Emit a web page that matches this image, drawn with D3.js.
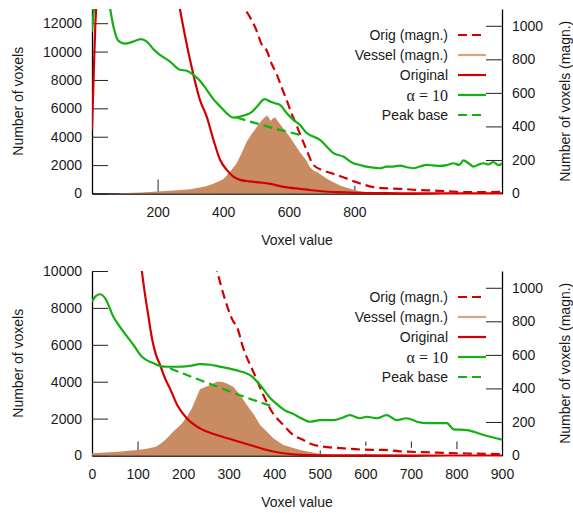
<!DOCTYPE html>
<html>
<head>
<meta charset="utf-8">
<script src="https://cdn.jsdelivr.net/npm/d3@7"></script>
<style>
  body { margin: 0; background: #fff; }
  svg  { display: block; }
</style>
</head>
<body>
<svg id="chart" width="573" height="513"></svg>
<script>
// ── Values ─────────────────────────────────────────────────────────────────
// Each series is a list of [voxel value, count]. Left axis: Original, α = 10,
// Peak base. Right axis (magnified): Orig (magn.), Vessel (magn.).

const legendLabels = ['Orig (magn.)', 'Vessel (magn.)', 'Original', 'α = 10', 'Peak base'];

// Top panel
const topXTicks  = [200, 400, 600, 800];
const topYTicks  = [0, 2000, 4000, 6000, 8000, 10000, 12000];
const topY2Ticks = [0, 200, 400, 600, 800, 1000];

const topOriginal = [
  [0, 4500], [5, 8200], [10, 11800], [15, 13900], [25, 16000], [245, 16000],
  [268, 13000], [299, 9400], [329, 6600], [350, 5400], [370, 3800], [390, 2400],
  [411, 1660], [430, 1200], [451, 960], [480, 860], [510, 780], [540, 700],
  [573, 520], [600, 420], [634, 330], [670, 230], [700, 160], [750, 90],
  [800, 50], [900, 20], [1000, 10], [1250, 5]
];
const topAlpha = [
  [0, 11400], [8, 13500], [20, 15000], [45, 14500], [55, 13070], [65, 11800],
  [79, 10800], [90, 10620], [101, 10560], [125, 10700], [150, 10880], [167, 10700],
  [190, 10100], [207, 9770], [238, 9300], [268, 8720], [289, 8650], [309, 8360],
  [329, 7950], [350, 7300], [370, 6650], [390, 6150], [411, 5650], [431, 5350],
  [451, 5420], [470, 5550], [482, 5660], [502, 6100], [527, 6650], [543, 6480],
  [558, 6360], [573, 6240], [594, 5660], [614, 5190], [634, 4830], [655, 4250],
  [675, 4010], [695, 3780], [716, 3300], [736, 2840], [766, 2600], [797, 2130],
  [817, 2010], [837, 1890], [858, 1820], [878, 1780], [898, 1890], [918, 1900],
  [939, 1960], [960, 1850], [980, 1780], [1000, 1900], [1020, 2010], [1040, 1980],
  [1061, 1940], [1082, 2000], [1102, 2130], [1120, 2010], [1132, 2330], [1150, 2100],
  [1163, 1900], [1180, 2050], [1193, 2130], [1210, 2050], [1223, 2220], [1240, 2000],
  [1250, 2130]
];
const topPeakBase = [
  [441, 5350], [480, 5080], [520, 4820], [560, 4560], [600, 4330], [634, 4130]
];
const topOrigMagn = [
  [430, 1230], [466, 1100], [482, 1050], [502, 970], [517, 890], [533, 851],
  [548, 772], [563, 712], [578, 633], [594, 554], [609, 474], [624, 405],
  [634, 355], [655, 256], [675, 170], [705, 137], [736, 117], [766, 97],
  [807, 67], [858, 38], [900, 30], [939, 28], [1000, 20], [1041, 18],
  [1100, 12], [1143, 8], [1200, 8], [1250, 10]
];
const topVessel = [
  [0, 0], [60, 0], [100, 3], [150, 6], [200, 12], [250, 18], [300, 25],
  [345, 42], [370, 58], [400, 85], [421, 130], [441, 180], [456, 240],
  [472, 310], [487, 355], [502, 395], [517, 435], [527, 455], [533, 465],
  [540, 450], [545, 432], [552, 448], [558, 455], [565, 435], [573, 415],
  [588, 375], [604, 335], [624, 276], [634, 246], [650, 205], [665, 177],
  [680, 145], [695, 117], [715, 90], [736, 67], [760, 45], [787, 28],
  [810, 16], [837, 8], [878, 2], [900, 0], [1250, 0]
];

// Bottom panel
const botXTicks  = [0, 100, 200, 300, 400, 500, 600, 700, 800, 900];
const botYTicks  = [0, 2000, 4000, 6000, 8000, 10000];
const botY2Ticks = [0, 200, 400, 600, 800, 1000];

const botOriginal = [
  [95, 12800], [109, 10050], [116, 8790], [124, 7520], [131, 6440], [142, 5350],
  [148, 5000], [160, 4200], [171, 3640], [187, 2740], [208, 2020], [237, 1470],
  [274, 1110], [310, 840], [347, 570], [384, 300], [420, 120], [457, 30],
  [500, 10], [600, 3], [900, 0]
];
const botAlpha = [
  [0, 8340], [9, 8650], [18, 8740], [29, 8520], [47, 7520], [69, 6710],
  [91, 5990], [109, 5360], [135, 5000], [157, 4820], [186, 4810], [215, 4860],
  [237, 4950], [260, 4920], [280, 4820], [300, 4720], [320, 4600], [336, 4480],
  [347, 4360], [369, 3820], [391, 3120], [408, 2740], [427, 2400], [440, 2280],
  [457, 2050], [479, 1830], [501, 1920], [530, 1920], [550, 2050], [566, 2190],
  [588, 2020], [603, 2100], [625, 2020], [647, 2190], [669, 1920], [691, 2020],
  [713, 1830], [735, 1750], [760, 1750], [779, 1750], [794, 1420], [823, 1380],
  [860, 1110], [900, 860]
];
const botPeakBase = [
  [171, 4725], [200, 4440], [237, 4090], [280, 3680], [320, 3310], [360, 2960], [398, 2645]
];
const botOrigMagn = [
  [262, 1230], [274, 1106], [289, 957], [310, 800], [318, 768], [332, 640],
  [354, 500], [376, 361], [395, 261], [420, 182], [442, 122], [464, 92],
  [480, 70], [501, 55], [552, 43], [596, 35], [640, 33], [676, 25],
  [749, 18], [823, 12], [900, 8]
];
const botVessel = [
  [0, 13], [30, 18], [58, 23], [80, 28], [101, 33], [120, 40], [140, 52],
  [153, 75], [165, 105], [178, 142], [197, 190], [208, 230], [219, 280],
  [230, 350], [237, 395], [250, 410], [259, 420], [274, 440], [285, 440],
  [296, 430], [310, 410], [325, 361], [340, 301], [356, 241], [369, 182],
  [384, 142], [398, 103], [420, 63], [457, 33], [493, 13], [530, 3],
  [560, 0], [900, 0]
];

// ── Styling ─────────────────────────────────────────────────────────────────
const FONT  = '"Liberation Sans", Arial, Helvetica, sans-serif';
const SERIF = '"Liberation Serif", "DejaVu Serif", serif';
const RED = '#d40000', GREEN = '#12b012', TAN = '#c98b62', TAN_KEY = '#d9a47e';
const DASH = '9,5';
const X0 = 92, X1 = 502;
const fmt = d3.format('d');

const svg = d3.select('#chart').attr('font-family', FONT);

function drawPanel(p) {
  const x  = d3.scaleLinear().domain([0, p.xMax]).range([X0, X1]);
  const y  = d3.scaleLinear().domain([0, p.yMax]).range([p.bottom, p.top]);
  const y2 = d3.scaleLinear().domain([0, p.y2Max]).range([p.bottom, p.top]);
  const g  = svg.append('g');

  const styleAxis = a => a
    .attr('font-size', 14).attr('font-family', FONT)
    .call(s => s.selectAll('.tick line').attr('stroke', '#222'))
    .call(s => s.selectAll('.domain').attr('stroke', '#000').attr('stroke-width', 1.3))
    .call(s => s.selectAll('text').attr('fill', '#1a1a1a'));

  // ── Axes (ticks point inward, drawn under the data) ─────────────────────
  g.append('g').attr('transform', `translate(0,${p.bottom})`)
    .call(d3.axisBottom(x).tickValues(p.xTicks).tickFormat(fmt)
      .tickSize(-14).tickSizeOuter(0).tickPadding(14))
    .call(styleAxis);

  g.append('g').attr('transform', `translate(${X0},0)`)
    .call(d3.axisLeft(y).tickValues(p.yTicks).tickFormat(fmt)
      .tickSize(-16).tickSizeOuter(0).tickPadding(10))
    .call(styleAxis);

  g.append('g').attr('transform', `translate(${X1},0)`)
    .call(d3.axisRight(y2).tickValues(p.y2Ticks).tickFormat(fmt)
      .tickSize(-16).tickSizeOuter(0).tickPadding(10))
    .call(styleAxis);

  // ── Axis titles ─────────────────────────────────────────────────────────
  const midY = (p.top + p.bottom) / 2;
  g.append('text').attr('transform', `translate(22.5,${midY}) rotate(-90)`)
    .attr('text-anchor', 'middle').attr('font-size', 14).attr('fill', '#1a1a1a')
    .text('Number of voxels');
  g.append('text').attr('transform', `translate(569.5,${midY}) rotate(-90)`)
    .attr('text-anchor', 'middle').attr('font-size', 14).attr('fill', '#1a1a1a')
    .text('Number of voxels (magn.)');
  g.append('text').attr('x', (X0 + X1) / 2).attr('y', p.bottom + 51)
    .attr('text-anchor', 'middle').attr('font-size', 14).attr('fill', '#1a1a1a')
    .text('Voxel value');

  // ── Data layer, clipped to the plot box ─────────────────────────────────
  const clipId = 'clip-' + p.id;
  svg.append('clipPath').attr('id', clipId)
    .append('rect').attr('x', X0).attr('y', p.top)
    .attr('width', X1 - X0).attr('height', p.bottom - p.top + 2);
  const dg = g.append('g').attr('clip-path', `url(#${clipId})`);

  const lineOn = sc => d3.line().x(d => x(d[0])).y(d => sc(d[1])).curve(d3.curveMonotoneX);

  // Vessel (magn.) — filled histogram on the right axis
  dg.append('path').datum(p.vessel)
    .attr('d', d3.area().x(d => x(d[0])).y0(y2(0)).y1(d => y2(d[1])).curve(d3.curveLinear))
    .attr('fill', TAN);

  // Orig (magn.) — dashed red with a white halo
  dg.append('path').datum(p.origMagn).attr('d', lineOn(y2))
    .attr('fill', 'none').attr('stroke', '#fff').attr('stroke-width', 8);
  dg.append('path').datum(p.origMagn).attr('d', lineOn(y2))
    .attr('fill', 'none').attr('stroke', RED).attr('stroke-width', 2.2)
    .attr('stroke-dasharray', DASH);

  // Original — solid red
  dg.append('path').datum(p.original).attr('d', lineOn(y))
    .attr('fill', 'none').attr('stroke', RED).attr('stroke-width', 2.2);

  // α = 10 — solid green
  dg.append('path').datum(p.alpha).attr('d', lineOn(y))
    .attr('fill', 'none').attr('stroke', GREEN).attr('stroke-width', 2.2);

  // Peak base — dashed green
  dg.append('path').datum(p.peakBase).attr('d', lineOn(y))
    .attr('fill', 'none').attr('stroke', GREEN).attr('stroke-width', 2.2)
    .attr('stroke-dasharray', DASH);

  // ── Legend ──────────────────────────────────────────────────────────────
  const keys = [
    { stroke: RED,     dash: DASH },
    { stroke: TAN_KEY, dash: null },
    { stroke: RED,     dash: null },
    { stroke: GREEN,   dash: null },
    { stroke: GREEN,   dash: DASH }
  ];
  legendLabels.forEach((label, i) => {
    const ly = p.top + 26 + i * 20;
    const isMath = label.startsWith('α');
    g.append('text').attr('x', 448).attr('y', ly).attr('dy', '0.35em')
      .attr('text-anchor', 'end')
      .attr('font-size', isMath ? 16 : 14)
      .attr('font-family', isMath ? SERIF : FONT)
      .attr('fill', '#1a1a1a')
      .text(label);
    g.append('line').attr('x1', 458).attr('x2', 486).attr('y1', ly).attr('y2', ly)
      .attr('stroke', keys[i].stroke).attr('stroke-width', 2.2)
      .attr('stroke-dasharray', keys[i].dash);
  });
}

drawPanel({
  id: 'top', top: 9, bottom: 193.5, xMax: 1250, yMax: 13000, y2Max: 1100,
  xTicks: topXTicks, yTicks: topYTicks, y2Ticks: topY2Ticks,
  original: topOriginal, alpha: topAlpha, peakBase: topPeakBase,
  origMagn: topOrigMagn, vessel: topVessel
});

drawPanel({
  id: 'bot', top: 271, bottom: 455.5, xMax: 900, yMax: 10000, y2Max: 1100,
  xTicks: botXTicks, yTicks: botYTicks, y2Ticks: botY2Ticks,
  original: botOriginal, alpha: botAlpha, peakBase: botPeakBase,
  origMagn: botOrigMagn, vessel: botVessel
});
</script>
</body>
</html>
